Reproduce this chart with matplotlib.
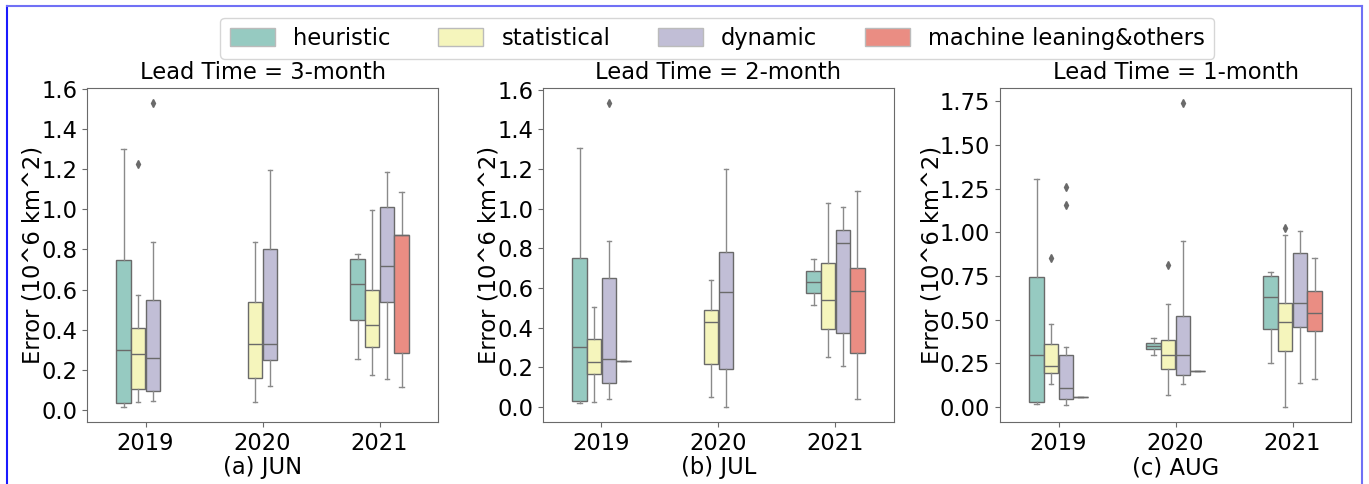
import matplotlib
matplotlib.use("Agg")
import matplotlib.pyplot as plt
from matplotlib.patches import Patch
from matplotlib.lines import Line2D
from matplotlib.ticker import MultipleLocator

years = ["2019", "2020", "2021"]
methods = ["heuristic", "statistical", "dynamic", "machine leaning&others"]
colors = ["#96cac1", "#f5f5bc", "#c1bed6", "#ea8d83"]
gray = "#6a6a6a"

# five-number summaries per year: (whislo, q1, med, q3, whishi), None = no data
jun_heuristic = [(0.017, 0.035, 0.30, 0.747, 1.30), None, (0.256, 0.451, 0.628, 0.750, 0.777)]
jun_statistical = [(0.04, 0.107, 0.278, 0.408, 0.575), (0.043, 0.160, 0.331, 0.539, 0.836), (0.177, 0.314, 0.425, 0.598, 0.995)]
jun_dynamic = [(0.046, 0.094, 0.258, 0.547, 0.836), (0.119, 0.251, 0.331, 0.802, 1.197), (0.154, 0.539, 0.717, 1.010, 1.183)]
jun_ml = [None, None, (0.117, 0.286, 0.874, 0.874, 1.083)]
jun_fliers = {(0, 1): [1.223], (0, 2): [1.529]}

jul_heuristic = [(0.017, 0.029, 0.300, 0.748, 1.305), None, (0.513, 0.572, 0.629, 0.684, 0.743)]
jul_statistical = [(0.023, 0.168, 0.228, 0.340, 0.505), (0.050, 0.216, 0.428, 0.488, 0.639), (0.253, 0.394, 0.537, 0.726, 1.026)]
jul_dynamic = [(0.042, 0.121, 0.242, 0.649, 0.835), (0.0, 0.191, 0.579, 0.780, 1.197), (0.204, 0.372, 0.825, 0.894, 1.006)]
jul_ml = [(0.233, 0.233, 0.233, 0.233, 0.233), None, (0.042, 0.272, 0.584, 0.698, 1.087)]
jul_fliers = {(0, 2): [1.533]}

aug_heuristic = [(0.017, 0.030, 0.297, 0.746, 1.303), (0.297, 0.331, 0.348, 0.367, 0.398), (0.253, 0.449, 0.632, 0.749, 0.774)]
aug_statistical = [(0.135, 0.194, 0.238, 0.363, 0.474), (0.070, 0.221, 0.297, 0.386, 0.588), (0.002, 0.323, 0.489, 0.595, 0.985)]
aug_dynamic = [(0.011, 0.046, 0.110, 0.299, 0.344), (0.133, 0.186, 0.297, 0.523, 0.951), (0.141, 0.460, 0.595, 0.883, 1.006)]
aug_ml = [(0.061, 0.061, 0.061, 0.061, 0.061), (0.207, 0.207, 0.207, 0.207, 0.207), (0.164, 0.438, 0.540, 0.666, 0.852)]
aug_fliers = {(0, 1): [0.852], (0, 2): [1.257, 1.155], (1, 1): [0.812], (1, 2): [1.741], (2, 1): [1.023]}

panels = [
    ("Lead Time = 3-month", "(a) JUN", [jun_heuristic, jun_statistical, jun_dynamic, jun_ml], jun_fliers, 0.2),
    ("Lead Time = 2-month", "(b) JUL", [jul_heuristic, jul_statistical, jul_dynamic, jul_ml], jul_fliers, 0.2),
    ("Lead Time = 1-month", "(c) AUG", [aug_heuristic, aug_statistical, aug_dynamic, aug_ml], aug_fliers, 0.25),
]

fs = 16.3
fig = plt.figure(figsize=(13.69, 4.84), dpi=100)
lefts = [0.0636, 0.3966, 0.7305]
slot = 0.125
offsets = [-1.5 * slot, -0.5 * slot, 0.5 * slot, 1.5 * slot]
bw = slot * 0.98
lw = 1.0

for (title, xlab, series, fliers, step), left in zip(panels, lefts):
    ax = fig.add_axes([left, 0.128, 0.2564, 0.691])
    for j, data in enumerate(series):
        stats, pos = [], []
        for i, s in enumerate(data):
            if s is None:
                continue
            lo, q1, med, q3, hi = s
            stats.append(dict(whislo=lo, q1=q1, med=med, q3=q3, whishi=hi,
                              fliers=fliers.get((i, j), [])))
            pos.append(i + offsets[j])
        ax.bxp(stats, positions=pos, widths=bw, capwidths=bw * 0.3,
               patch_artist=True, manage_ticks=False,
               boxprops=dict(facecolor=colors[j], edgecolor=gray, linewidth=lw),
               medianprops=dict(color=gray, linewidth=lw),
               whiskerprops=dict(color="#8a8a8a", linewidth=lw),
               capprops=dict(color="#8a8a8a", linewidth=lw),
               flierprops=dict(marker="d", markersize=4, markerfacecolor=gray,
                               markeredgecolor=gray))
    ax.set_xlim(-0.5, 2.5)
    ax.set_xticks(range(len(years)))
    ax.set_xticklabels(years)
    ax.yaxis.set_major_locator(MultipleLocator(step))
    ax.tick_params(labelsize=fs, color=gray)
    for sp in ax.spines.values():
        sp.set_color(gray)
    ax.set_title(title, fontsize=fs)
    ax.set_xlabel(xlab, fontsize=fs, labelpad=1)
    ax.set_ylabel("Error (10^6 km^2)", fontsize=fs, labelpad=-2.5)

handles = [Patch(facecolor=c, edgecolor="#bbbbbb") for c in colors]
fig.legend(handles, methods, loc="upper center", bbox_to_anchor=(0.524, 0.963),
           ncol=4, fontsize=fs, handlelength=2.0, handleheight=0.8,
           columnspacing=2.1, borderpad=0.4, borderaxespad=0)

# screenshot frame
fig.add_artist(Line2D([7 / 1369, 7 / 1369], [0, 1 - 6 / 484], color="#1a1aff", lw=1.5))
fig.add_artist(Line2D([7 / 1369, 1362 / 1369], [1 - 6 / 484, 1 - 6 / 484], color="#7070f5", lw=1.5))
fig.add_artist(Line2D([1362 / 1369, 1362 / 1369], [0, 1 - 6 / 484], color="#7070f5", lw=1.5))

fig.savefig("out.png", dpi=100)
